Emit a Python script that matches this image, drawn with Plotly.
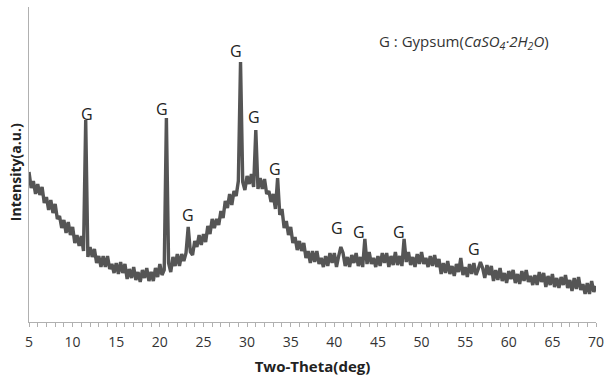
import numpy as np
import plotly.graph_objects as go

# ---- data ----
theta_start = 5.0
theta_step = 0.25
intensity = [
    150,134,141,128, 138,127,135,119, 125,112,122,109, 118,103,106,94,
    102,89,100,87, 95,79,87,76, 86,71,202,65, 75,65,73,59,
    66,55,66,55, 66,53,58,49, 59,48,60,49, 58,43,53,44,
    55,42,50,40, 52,44,54,41, 50,41,54,45, 58,47,52,204,
    59,50,65,56, 68,56,68,61, 69,95,70,67, 81,75,87,77,
    88,80,96,88, 103,94,103,97, 111,104,121,114, 128,117,131,126,
    141,260,140,132, 146,138,148,135, 192,133,144,133, 143,128,131,120,
    128,113,144,107, 113,94,101,87, 95,79,85,72, 81,71,79,64,
    71,59,71,60, 71,58,64,55, 66,56,69,59, 69,55,66,75,
    69,56,65,55, 67,59,69,56, 65,55,83,58, 70,58,64,55,
    66,56,69,59, 69,55,66,57, 70,57,66,56, 83,60,70,57,
    65,55,68,58, 70,58,64,55, 66,56,67,55, 63,48,59,49,
    61,48,56,46, 58,50,64,47, 55,45,58,48, 59,47,53,60,
    54,44,57,47, 56,41,52,42, 54,41,49,39, 51,43,52,39,
    48,38,51,41, 52,40,46,37, 47,37,50,40, 49,35,46,37,
    48,35,44,34, 45,37,47,34, 42,31,44,33, 45,32,38,28,
    39,28,41,30, 36,
]
two_theta = theta_start + theta_step * np.arange(len(intensity))

label_x = [11.6, 20.25, 23.2, 28.75, 30.8, 33.2, 40.35, 42.85, 47.4, 56.0]
label_y = [208, 213, 107, 271, 205, 153, 94, 90, 90, 73]
label_text = ["G"] * len(label_x)

x_ticks = list(range(5, 71, 5))
legend_text = "G : Gypsum(<i>CaSO<sub>4</sub>·2H<sub>2</sub>O</i>)"
x_title = "<b>Two-Theta(deg)</b>"
y_title = "<b>Intensity(a.u.)</b>"

fig = go.Figure()
fig.add_trace(go.Scatter(
    x=two_theta, y=intensity, mode="lines",
    line=dict(color="#555555", width=3.4),
    hoverinfo="skip", showlegend=False,
))

for lx, ly, lt in zip(label_x, label_y, label_text):
    fig.add_annotation(x=lx, y=ly, text=lt, showarrow=False,
                       font=dict(family="Open Sans", size=16, color="#222222"),
                       xanchor="center", yanchor="middle")

fig.add_annotation(x=0.614, y=0.888, xref="paper", yref="paper",
                   text=legend_text, showarrow=False, xanchor="left", yanchor="middle",
                   font=dict(family="Open Sans", size=15, color="#333333"))

fig.add_annotation(x=-0.0245, y=0.476, xref="paper", yref="paper",
                   text=y_title, showarrow=False, textangle=-90,
                   xanchor="center", yanchor="middle",
                   font=dict(family="Open Sans", size=14, color="#222222"))

fig.update_layout(
    width=611, height=383,
    margin=dict(l=29, r=10, t=7, b=61),
    paper_bgcolor="white", plot_bgcolor="white",
    xaxis=dict(
        range=[5, 70], tickvals=x_ticks, ticktext=[str(v) for v in x_ticks],
        showgrid=False, zeroline=False,
        showline=True, linecolor="#b0b0b0", linewidth=1,
        ticks="outside", ticklen=4, tickcolor="#b0b0b0",
        ticklabelstandoff=3,
        minor=dict(dtick=1, ticks="outside", ticklen=4, tickcolor="#b0b0b0"),
        tickfont=dict(family="Open Sans", size=14, color="#333333"),
        title=dict(text=x_title, standoff=11,
                   font=dict(family="Open Sans", size=15, color="#222222")),
    ),
    yaxis=dict(
        range=[0, 315], showticklabels=False, showgrid=False, zeroline=False,
        showline=True, linecolor="#b0b0b0", linewidth=1, ticks="",
    ),
)

fig.write_html("out.html")
